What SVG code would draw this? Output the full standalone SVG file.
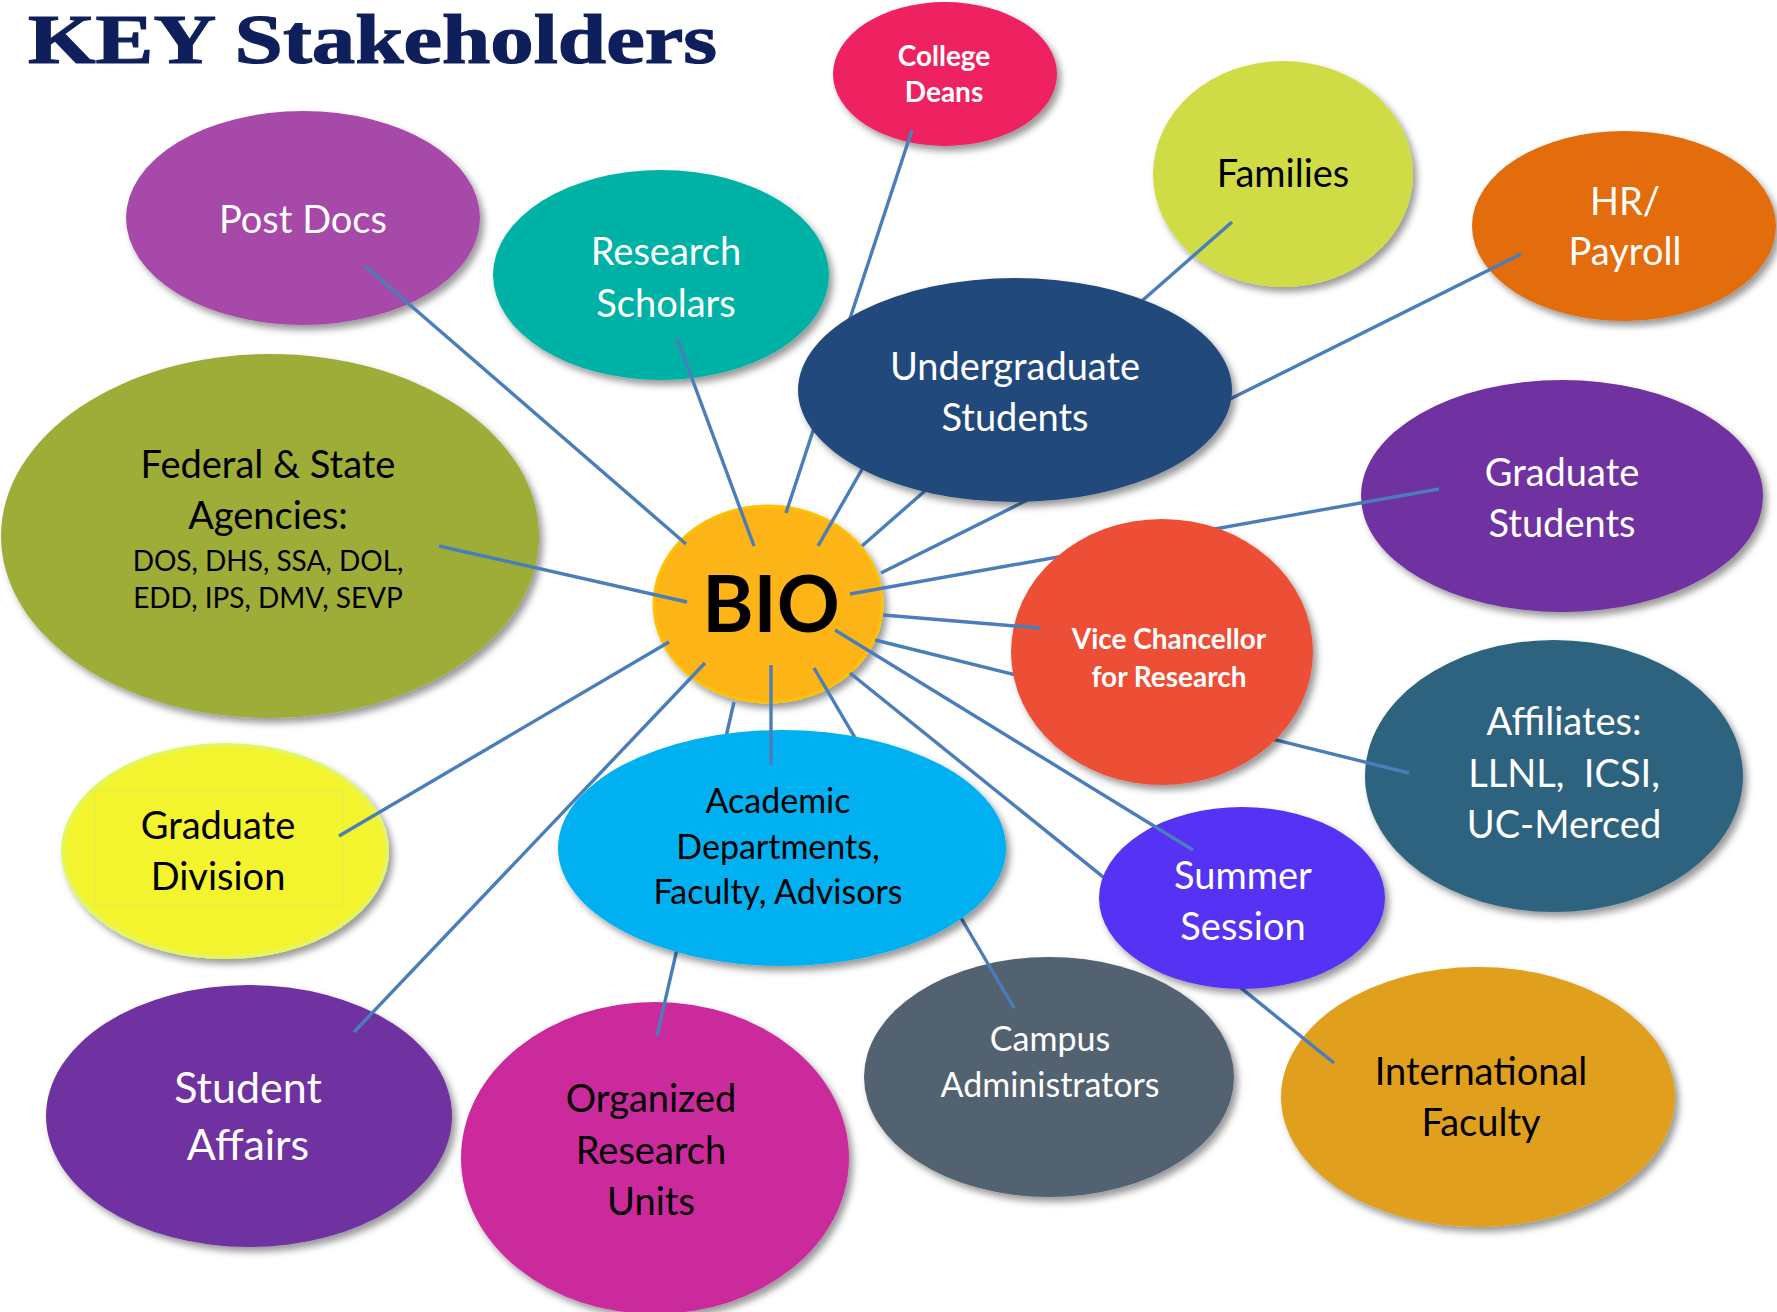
<svg xmlns="http://www.w3.org/2000/svg" width="1777" height="1312" viewBox="0 0 1777 1312">
  <defs>
    <filter id="shadow" x="-10%" y="-10%" width="125%" height="125%">
      <feDropShadow dx="4" dy="5" stdDeviation="3.5" flood-color="#000" flood-opacity="0.4"/>
    </filter>
  </defs>
  <style>
    .node ellipse { filter: url(#shadow); }
    .lbl { font-family: Lato, "Open Sans", "Liberation Sans", sans-serif; font-size: 38px; text-anchor: middle; }
    .w { fill: #ffffff; }
    .k { fill: #000000; }
    .b { font-weight: bold; }
    .sm { font-size: 34px; }
    .xs { font-size: 28px; }
    .conn line { stroke: #4A7EBB; stroke-width: 3.4; stroke-linecap: butt; }
    .title { font-family: "Liberation Serif", "DejaVu Serif", serif; font-weight: bold; font-size: 70px; fill: #0E1F5B; stroke: #0E1F5B; stroke-width: 1.2; }
  </style>

  <rect width="1777" height="1312" fill="#ffffff"/>

  <text class="title" x="28" y="63" textLength="689" lengthAdjust="spacingAndGlyphs">KEY Stakeholders</text>

  <!-- outer ring of stakeholders -->
  <g id="college-deans" class="node">
    <ellipse cx="945" cy="74" rx="112" ry="72" fill="#EE2160"/>
    <text class="lbl w b xs" x="944" y="66">College</text>
    <text class="lbl w b xs" x="944" y="102">Deans</text>
  </g>
  <g id="families" class="node">
    <ellipse cx="1283" cy="174" rx="130" ry="113" fill="#CFDC44"/>
    <text class="lbl k" x="1283" y="187">Families</text>
  </g>
  <g id="hr-payroll" class="node">
    <ellipse cx="1624" cy="226" rx="152" ry="95" fill="#E36C0D"/>
    <text class="lbl w" x="1625" y="215">HR/</text>
    <text class="lbl w" x="1625" y="265">Payroll</text>
  </g>
  <g id="post-docs" class="node">
    <ellipse cx="303" cy="218" rx="177" ry="107" fill="#A649A8"/>
    <text class="lbl w" x="303" y="233">Post Docs</text>
  </g>
  <g id="research-scholars" class="node">
    <ellipse cx="661" cy="275" rx="168" ry="105" fill="#00B2A6"/>
    <text class="lbl w" x="666" y="265">Research</text>
    <text class="lbl w" x="666" y="317">Scholars</text>
  </g>
  <g id="federal-state" class="node">
    <ellipse cx="270" cy="536" rx="269" ry="182" fill="#9DAD37"/>
    <text class="lbl k" x="268" y="478">Federal &amp; State</text>
    <text class="lbl k" x="268" y="529">Agencies:</text>
    <text class="lbl k xs" x="268" y="571">DOS, DHS, SSA, DOL,</text>
    <text class="lbl k xs" x="268" y="608">EDD, IPS, DMV, SEVP</text>
  </g>
  <g id="graduate-students" class="node">
    <ellipse cx="1562" cy="496" rx="201" ry="116" fill="#7030A0"/>
    <text class="lbl w" x="1562" y="486">Graduate</text>
    <text class="lbl w" x="1562" y="537">Students</text>
  </g>
  <g id="affiliates" class="node">
    <ellipse cx="1554" cy="776" rx="189" ry="136" fill="#2E637F"/>
    <text class="lbl w" x="1564" y="735">Affiliates:</text>
    <text class="lbl w" x="1564" y="787" xml:space="preserve">LLNL,  ICSI,</text>
    <text class="lbl w" x="1564" y="838">UC-Merced</text>
  </g>
  <g id="graduate-division" class="node">
    <ellipse cx="225" cy="851" rx="162" ry="106" fill="#F3F32F" stroke="#E4F65C" stroke-width="4"/>
    <rect x="95" y="790" width="248" height="116" fill="none" stroke="#E2EE50" stroke-width="1.2"/>
    <text class="lbl k" x="218" y="839">Graduate</text>
    <text class="lbl k" x="218" y="890">Division</text>
  </g>
  <g id="student-affairs" class="node">
    <ellipse cx="249" cy="1116" rx="203" ry="131" fill="#7030A0"/>
    <text class="lbl w" style="font-size:43px" x="248" y="1103">Student</text>
    <text class="lbl w" style="font-size:43px" x="248" y="1160">Affairs</text>
  </g>
  <g id="organized-research-units" class="node">
    <ellipse cx="655" cy="1158" rx="194" ry="156" fill="#CB2A9C"/>
    <text class="lbl k" x="651" y="1112">Organized</text>
    <text class="lbl k" x="651" y="1164">Research</text>
    <text class="lbl k" x="651" y="1215">Units</text>
  </g>
  <g id="campus-administrators" class="node">
    <ellipse cx="1049" cy="1077" rx="185" ry="120" fill="#536270"/>
    <text class="lbl w sm" x="1050" y="1051">Campus</text>
    <text class="lbl w sm" x="1050" y="1097">Administrators</text>
  </g>
  <g id="international-faculty" class="node">
    <ellipse cx="1478" cy="1097" rx="197" ry="130" fill="#E09F1C"/>
    <text class="lbl k" x="1481" y="1085">International</text>
    <text class="lbl k" x="1481" y="1136">Faculty</text>
  </g>
  <g id="bio" class="node">
    <ellipse cx="768" cy="604" rx="114" ry="98" fill="#FDB418" stroke="#FFC000" stroke-width="3"/>
    <text class="lbl k b" style="font-size:78px" x="771" y="632">BIO</text>
  </g>

  <!-- links that run beneath the inner ring -->
  <g id="connectors-under" class="conn">
    <line x1="912" y1="130" x2="786" y2="513"/>
    <line x1="1232" y1="222" x2="862" y2="546"/>
    <line x1="1521" y1="254" x2="881" y2="573"/>
    <line x1="818" y1="546" x2="872" y2="452"/>
    <line x1="1439" y1="489" x2="850" y2="594"/>
    <line x1="1409" y1="773" x2="875" y2="640"/>
    <line x1="850" y1="673" x2="1334" y2="1063"/>
    <line x1="814" y1="668" x2="1014" y2="1008"/>
    <line x1="734" y1="702" x2="657" y2="1036"/>
  </g>

  <!-- inner ring -->
  <g id="undergraduate-students" class="node">
    <ellipse cx="1015" cy="390" rx="217" ry="112" fill="#214A7B"/>
    <text class="lbl w" x="1015" y="380">Undergraduate</text>
    <text class="lbl w" x="1015" y="431">Students</text>
  </g>
  <g id="vice-chancellor-research" class="node">
    <ellipse cx="1162" cy="652" rx="151" ry="133" fill="#EC4F35"/>
    <text class="lbl w b xs" x="1169" y="649">Vice Chancellor</text>
    <text class="lbl w b xs" x="1169" y="687">for Research</text>
  </g>
  <g id="academic-departments" class="node">
    <ellipse cx="782" cy="848" rx="224" ry="118" fill="#00B0F0"/>
    <text class="lbl k sm" x="778" y="813">Academic</text>
    <text class="lbl k sm" x="778" y="859">Departments,</text>
    <text class="lbl k sm" x="778" y="904">Faculty, Advisors</text>
  </g>
  <g id="summer-session" class="node">
    <ellipse cx="1242" cy="898" rx="143" ry="91" fill="#5633F5"/>
    <text class="lbl w" x="1243" y="889">Summer</text>
    <text class="lbl w" x="1243" y="940">Session</text>
  </g>

  <!-- links drawn over the nodes -->
  <g id="connectors" class="conn">
    <line x1="365" y1="266" x2="686" y2="544"/>
    <line x1="677" y1="338" x2="754" y2="546"/>
    <line x1="439" y1="546" x2="687" y2="602"/>
    <line x1="883" y1="615" x2="1040" y2="628"/>
    <line x1="835" y1="630" x2="1193" y2="850"/>
    <line x1="771" y1="665" x2="771" y2="765"/>
    <line x1="705" y1="663" x2="354" y2="1032"/>
    <line x1="669" y1="642" x2="339" y2="836"/>
  </g>
</svg>
